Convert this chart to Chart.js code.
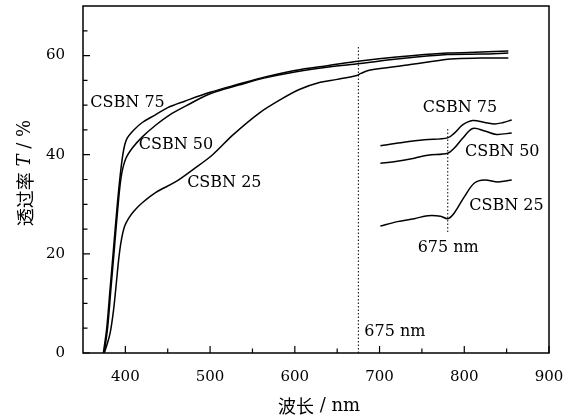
<!DOCTYPE html>
<html>
<head>
<meta charset="utf-8">
<script src="https://cdn.jsdelivr.net/npm/chart.js@4/dist/chart.umd.min.js"></script>
<style>
html,body{margin:0;padding:0;background:#fff;}
#wrap{width:577px;height:418px;}
</style>
</head>
<body>
<div id="wrap"><canvas id="c" width="577" height="418"></canvas></div>
<script>
// ---- data (wavelength nm, transmittance %) ----
const csbn75 = [[374,0],[378,5],[382,13],[386,21],[390,29],[394,36],[398,41],[402,43.3],[410,45],[420,46.5],[435,48],[450,49.5],[470,50.8],[500,52.6],[535,54.3],[565,55.7],[600,57],[640,58],[677,58.9],[720,59.7],[780,60.5],[820,60.7],[852,60.9]];
const csbn50 = [[375,0],[379,5],[383,13],[387,21],[391,29],[395,35.5],[400,39],[408,41.3],[420,43.6],[436,46],[452,48],[471,49.8],[500,52.3],[535,54.1],[565,55.5],[600,56.7],[640,57.7],[677,58.4],[720,59.3],[780,60.2],[820,60.3],[852,60.5]];
const csbn25 = [[375,0],[378,1.5],[382,4],[386,8.6],[389,13.5],[392,18.7],[395,22.5],[399,25.5],[404,27.2],[410,28.6],[420,30.3],[436,32.4],[459,34.5],[479,36.9],[503,40],[527,44],[558,48.4],[586,51.4],[606,53.2],[630,54.6],[650,55.2],[673,56],[678,56.4],[689,57.1],[733,58.1],[784,59.3],[820,59.5],[852,59.5]];
// inset (magnified view near 675 nm), drawn in chart units
const inset75 = [[701,41.8],[725,42.4],[753,43],[780.5,43.4],[788,44.3],[798,46],[810,46.9],[824,46.5],[836,46.2],[846,46.5],[856,47]];
const inset50 = [[701,38.3],[717,38.6],[741,39.3],[757,39.9],[780.5,40.3],[788,41.3],[798,43.3],[810,45.3],[824,44.8],[838,44.1],[856,44.4]];
const inset25 = [[701,25.6],[721,26.5],[741,27.1],[757,27.7],[772,27.6],[780.5,27.1],[788,28.2],[800,31.5],[812,34.3],[824,34.9],[840,34.5],[856,34.9]];
const marker675 = [[675,0],[675,62]];
const insetMarker = [[780.5,24.4],[780.5,45.4]];
// axes
const xTicks = [400,500,600,700,800,900];
const xMinor = [450,550,650,750,850];
const yTicks = [0,20,40,60];
const yMinor = [5,10,15,25,30,35,45,50,55,65];
const xRange = [350,900];
const yRange = [0,70];
// text labels: [text, x, y] in data units (left edge, vertical centre)
const labels = [
  ['CSBN 75',358.7,50.4],['CSBN 50',415.8,42.0],['CSBN 25',472.9,34.3],['675 nm',682,4.3],
  ['CSBN 75',751,49.4],['CSBN 50',801,40.5],['CSBN 25',805.8,29.6],['675 nm',745,21.3]
];

const toPts = a => a.map(p => ({x:p[0], y:p[1]}));
const curve = d => ({data:toPts(d), borderColor:'#000', borderWidth:1.5, pointRadius:0, tension:0.35, fill:false});
const dotted = d => ({data:toPts(d), borderColor:'#000', borderWidth:1, borderDash:[1.5,2], pointRadius:0, tension:0, fill:false});

const serif = 'DejaVu Serif';
const overlay = {
  id:'overlay',
  afterDraw(chart){
    const ctx = chart.ctx, xs = chart.scales.x, ys = chart.scales.y, a = chart.chartArea;
    ctx.save();
    ctx.strokeStyle = '#000';
    ctx.lineWidth = 1.5;
    ctx.strokeRect(a.left, a.top, a.right - a.left, a.bottom - a.top);
    ctx.lineWidth = 1.2;
    ctx.beginPath();
    xTicks.forEach(v => { const p = xs.getPixelForValue(v); ctx.moveTo(p, a.bottom); ctx.lineTo(p, a.bottom - 7); });
    xMinor.forEach(v => { const p = xs.getPixelForValue(v); ctx.moveTo(p, a.bottom); ctx.lineTo(p, a.bottom - 4.5); });
    yTicks.forEach(v => { const p = ys.getPixelForValue(v); ctx.moveTo(a.left, p); ctx.lineTo(a.left + 7, p); });
    yMinor.forEach(v => { const p = ys.getPixelForValue(v); ctx.moveTo(a.left, p); ctx.lineTo(a.left + 4.5, p); });
    ctx.stroke();
    // labels
    ctx.fillStyle = '#000';
    ctx.font = '16px "' + serif + '"';
    ctx.textAlign = 'left';
    ctx.textBaseline = 'middle';
    labels.forEach(l => ctx.fillText(l[0], xs.getPixelForValue(l[1]), ys.getPixelForValue(l[2])));
    // axis titles (mixed runs)
    const drawRuns = (runs, cx, cy) => {
      let w = 0;
      runs.forEach(r => { ctx.font = r[1]; r.w = ctx.measureText(r[0]).width; w += r.w; });
      let x = cx - w / 2;
      runs.forEach(r => { ctx.font = r[1]; ctx.fillText(r[0], x, cy); x += r.w; });
    };
    ctx.textBaseline = 'middle';
    const cjk = '18px "Noto Sans CJK SC"';
    const lat = '18px "' + serif + '"';
    const it = 'italic 18px "' + serif + '"';
    drawRuns([['波长', cjk], [' / nm', lat]], 319, 406);
    ctx.save();
    ctx.translate(25, 173);
    ctx.rotate(-Math.PI / 2);
    drawRuns([['透过率', cjk], [' ', lat], ['T', it], [' / %', lat]], 0, 0);
    ctx.restore();
    ctx.restore();
  }
};

new Chart(document.getElementById('c'), {
  type:'line',
  data:{datasets:[curve(csbn75), curve(csbn50), curve(csbn25), curve(inset75), curve(inset50), curve(inset25), dotted(marker675), dotted(insetMarker)]},
  options:{
    responsive:false, animation:false,
    layout:{padding:{top:6, right:28, left:0, bottom:0}},
    plugins:{legend:{display:false}, tooltip:{enabled:false}},
    scales:{
      x:{type:'linear', min:xRange[0], max:xRange[1],
         grid:{display:false}, border:{display:false},
         afterBuildTicks(s){ s.ticks = xTicks.map(v => ({value:v})); },
         afterFit(s){ s.height = 65; s.paddingLeft = 0; s.paddingRight = 0; },
         ticks:{color:'#000', padding:7, font:{family:serif, size:15}, maxRotation:0, autoSkip:false}},
      y:{type:'linear', min:yRange[0], max:yRange[1],
         grid:{display:false}, border:{display:false},
         afterBuildTicks(s){ s.ticks = yTicks.map(v => ({value:v})); },
         afterFit(s){ s.width = 83; s.paddingTop = 0; s.paddingBottom = 0; },
         ticks:{color:'#000', padding:10, font:{family:serif, size:15}, autoSkip:false}}
    }
  },
  plugins:[overlay]
});
</script>
</body>
</html>
